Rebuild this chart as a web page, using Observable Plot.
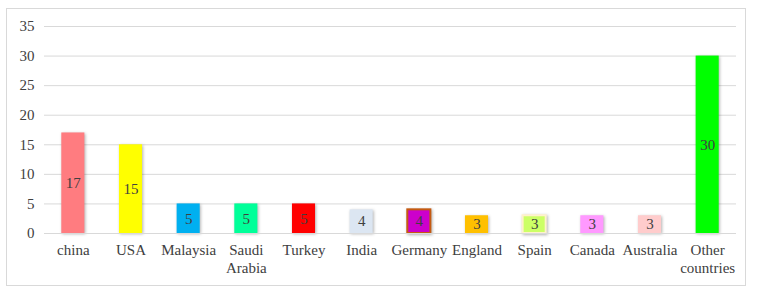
<!DOCTYPE html>
<html>
<head>
<meta charset="utf-8">
<script src="https://cdn.jsdelivr.net/npm/d3@7"></script>
<script src="https://cdn.jsdelivr.net/npm/@observablehq/plot@0.6"></script>
<style>
  html, body { margin: 0; padding: 0; background: #fff; }
  #wrap { position: relative; width: 760px; height: 294px; }
  #frame { position: absolute; left: 6px; top: 8px; width: 738px; height: 276px; border: 1px solid #d9d9d9; pointer-events: none; }
  .bars rect { filter: drop-shadow(1px 1px 1.5px rgba(0,0,0,0.3)); }
</style>
</head>
<body>
<div id="wrap"><div id="frame"></div></div>
<script>
const countries = ["china", "USA", "Malaysia", "Saudi\nArabia", "Turkey", "India", "Germany", "England", "Spain", "Canada", "Australia", "Other\ncountries"];
const counts = [17, 15, 5, 5, 5, 4, 4, 3, 3, 3, 3, 30];
const barColors = ["#FF7C80", "#FFFF00", "#00B0F0", "#00FF99", "#FF0000", "#DCE6F2", "#CC00CC", "#FFC000", "#CCFF66", "#FF99FF", "#FFCCCC", "#00FF00"];
const barStrokes = ["none", "none", "none", "none", "none", "none", "#C55A11", "none", "#FFF2CC", "none", "none", "none"];
const yTicks = [0, 5, 10, 15, 20, 25, 30, 35];

const data = countries.map((c, i) => ({country: c, value: counts[i], color: barColors[i], stroke: barStrokes[i]}));

const chart = Plot.plot({
  width: 760,
  height: 294,
  marginLeft: 44,
  marginRight: 24,
  marginTop: 26,
  marginBottom: 61,
  style: {fontFamily: "'Liberation Serif', 'Times New Roman', serif", fontSize: "15px", color: "#404040", background: "transparent"},
  x: {domain: countries, paddingInner: 0.6, paddingOuter: 0.3, round: false, label: null},
  y: {domain: [0, 35], label: null},
  marks: [
    Plot.gridY(yTicks, {stroke: "#d9d9d9", strokeOpacity: 1, strokeWidth: 1}),
    Plot.axisY(yTicks, {tickSize: 0, tickPadding: 10, fontSize: 15, fill: "#404040", label: null}),
    Plot.axisX({tickSize: 0, tickPadding: 9, fontSize: 15, fill: "#404040", lineHeight: 1.2, label: null}),
    Plot.barY(data, {x: "country", y: "value", fill: "color", stroke: "stroke", strokeWidth: 2, className: "bars"}),
    Plot.ruleY([0], {stroke: "#d9d9d9", strokeWidth: 1}),
    Plot.text(data, {x: "country", y: d => d.value / 2, text: d => String(d.value), fontSize: 15, fill: "#404040"})
  ]
});
document.getElementById("wrap").appendChild(chart);
chart.style.position = "absolute";
chart.style.left = "0";
chart.style.top = "0";
</script>
</body>
</html>
